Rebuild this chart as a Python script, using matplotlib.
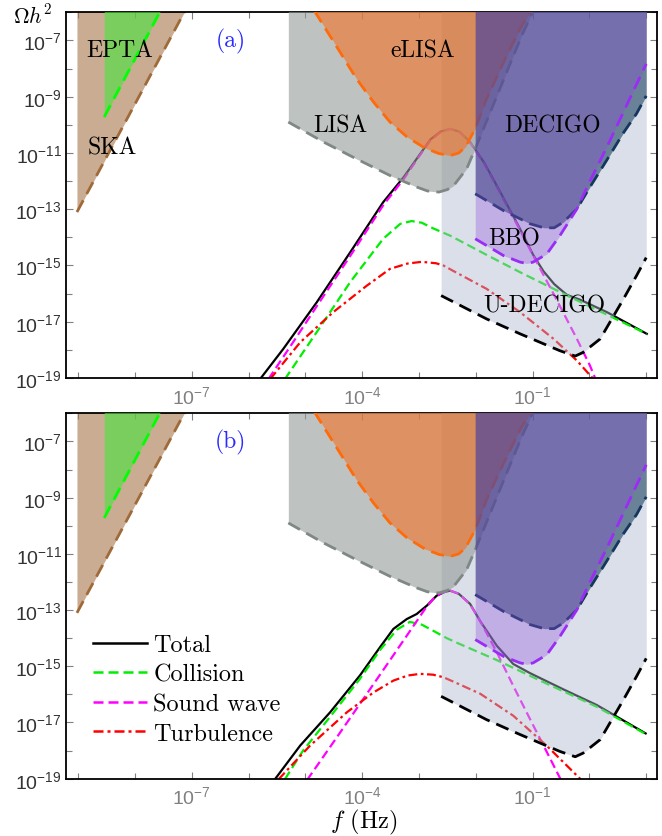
import numpy as np
import matplotlib.pyplot as plt
from matplotlib.lines import Line2D
from matplotlib.ticker import FixedLocator, FuncFormatter, NullFormatter

plt.rcParams['font.family'] = 'Liberation Sans'
plt.rcParams['mathtext.fontset'] = 'custom'
plt.rcParams['mathtext.rm'] = 'Liberation Sans'
plt.rcParams['mathtext.it'] = 'Liberation Sans:italic'
plt.rcParams['mathtext.bf'] = 'Liberation Sans:bold'

# --- detector sensitivities: log10(f/Hz), log10(Omega h^2) ---
ska_f = [-9.02, -7.05]
ska_o = [-13.10, -5.69]
epta_f = [-8.54, -7.52]
epta_o = [-9.72, -5.83]
lisa_f = [-5.30, -4.68, -4.10, -3.51, -3.04, -2.85, -2.65, -2.50, -2.39, -2.16, -2.01, -1.78, -1.48, -1.19, -0.99]
lisa_o = [-9.90, -10.61, -11.21, -11.80, -12.21, -12.35, -12.39, -12.30, -12.16, -11.56, -10.85, -9.72, -8.24, -6.82, -5.95]
elisa_f = [-4.84, -4.39, -4.10, -3.80, -3.51, -3.21, -2.90, -2.65, -2.45, -2.30, -2.18, -2.01, -1.81, -1.51, -1.22, -1.03]
elisa_o = [-5.95, -7.41, -8.36, -9.19, -9.90, -10.43, -10.82, -11.02, -11.09, -11.00, -10.78, -10.14, -9.07, -7.77, -6.58, -5.95]
udec_f = [-2.61, -1.81, -1.22, -0.52, -0.25, -0.11, 0.19, 0.36, 0.60, 0.83, 1.00]
udec_o = [-16.07, -16.90, -17.43, -18.03, -18.22, -18.09, -17.61, -17.02, -16.19, -15.36, -14.72]
decigo_f = [-2.01, -1.51, -1.04, -0.80, -0.62, -0.46, -0.22, 0.01, 0.31, 0.60, 0.83, 1.00]
decigo_o = [-12.45, -13.05, -13.52, -13.66, -13.66, -13.46, -12.99, -12.21, -11.24, -10.28, -9.60, -8.97]
bbo_f = [-2.01, -1.51, -1.22, -1.10, -0.99, -0.75, -0.52, -0.22, 0.01, 0.31, 0.60, 1.00]
bbo_o = [-14.05, -14.65, -14.88, -14.93, -14.88, -14.59, -13.94, -12.99, -12.00, -10.78, -9.54, -7.83]

# --- GW spectra, panel (a) ---
tot_a_f = [-5.82, -5.39, -4.80, -4.21, -3.63, -3.27, -2.95, -2.80, -2.62, -2.45, -2.28, -2.10, -1.85, -1.63,
           -1.22, -0.99, -0.81, -0.62, -0.40, -0.16, 0.31, 1.01]
tot_a_o = [-19.10, -17.97, -16.31, -14.53, -12.75, -11.86, -10.95, -10.52, -10.24, -10.14, -10.25, -10.61, -11.35,
           -12.16, -13.70, -14.62, -15.20, -15.66, -16.04, -16.22, -16.66, -17.43]
col_a_f = [-5.36, -4.80, -4.21, -3.63, -3.33, -3.13, -2.95, -2.75, -2.45, -1.85, -1.22, -0.34, 0.30, 1.01]
col_a_o = [-19.04, -17.37, -15.59, -14.05, -13.52, -13.42, -13.48, -13.68, -13.94, -14.58, -15.24, -16.12, -16.74, -17.43]
sw_a_f = [-5.65, -5.20, -4.80, -4.21, -3.63, -3.27, -2.95, -2.80, -2.62, -2.45, -2.28, -2.10, -1.85, -1.63,
          -1.22, -0.99, -0.63, -0.22, 0.01, 0.12]
sw_a_o = [-19.04, -17.68, -16.45, -14.66, -12.86, -11.93, -10.98, -10.55, -10.26, -10.15, -10.27, -10.63, -11.38,
          -12.20, -13.75, -14.65, -16.01, -17.61, -18.56, -19.10]
tu_a_f = [-5.62, -5.09, -4.51, -3.92, -3.51, -3.20, -2.95, -2.70, -2.57, -2.39, -1.81, -1.22, -0.63, -0.22, 0.08]
tu_a_o = [-19.04, -17.73, -16.66, -15.72, -15.12, -14.93, -14.87, -14.92, -15.00, -15.20, -15.83, -16.66, -17.61, -18.38, -19.06]

# --- GW spectra, panel (b) ---
tot_b_f = [-5.55, -5.09, -4.565, -4.04, -3.685, -3.45, -3.215, -3.04, -2.86, -2.69, -2.54, -2.45, -2.30, -2.10,
           -1.92, -1.63, -1.34, -1.04, -0.46, 0.13, 0.99]
tot_b_o = [-19.06, -17.82, -16.64, -15.33, -14.32, -13.67, -13.32, -13.14, -12.84, -12.49, -12.35, -12.31, -12.42,
           -12.78, -13.40, -14.27, -14.92, -15.25, -15.82, -16.38, -17.39]
col_b_f = [-5.36, -5.04, -4.565, -4.04, -3.685, -3.39, -3.16, -2.95, -2.80, -2.51, -2.28, -1.63, -0.75, 0.13, 0.99]
col_b_o = [-19.02, -18.00, -16.80, -15.45, -14.42, -13.70, -13.42, -13.52, -13.68, -14.00, -14.21, -14.78, -15.62, -16.44, -17.41]
sw_b_f = [-4.97, -4.45, -4.04, -3.57, -3.16, -2.90, -2.75, -2.60, -2.45, -2.30, -2.10, -1.92, -1.63, -1.34, -1.04, -0.75, -0.50]
sw_b_o = [-19.05, -17.54, -16.34, -14.96, -13.75, -12.98, -12.60, -12.38, -12.31, -12.42, -12.80, -13.40, -14.50,
          -15.70, -16.90, -18.05, -19.05]
tu_b_f = [-5.47, -4.92, -4.27, -3.80, -3.45, -3.20, -2.98, -2.75, -2.57, -2.28, -1.92, -1.34, -0.75, -0.14]
tu_b_o = [-19.02, -17.83, -16.64, -15.93, -15.51, -15.33, -15.27, -15.30, -15.39, -15.65, -15.98, -16.76, -17.83, -19.05]

# detector labels (a): text, log f, log Omega
det_labels = ["EPTA", "SKA", "LISA", "eLISA", "DECIGO", "BBO", "U-DECIGO"]
det_lab_f = [-8.26, -8.40, -4.38, -2.94, -0.65, -1.33, -0.80]
det_lab_o = [-7.35, -10.79, -10.02, -7.35, -10.02, -14.03, -16.43]

legend_names = ["Total", "Collision", "Sound wave", "Turbulence"]


def p(a):
    return 10.0 ** np.asarray(a, dtype=float)


TOP = 1e-4
DASH = (4.8, 2.6)

# f, o, fill colour, alpha, line colour
detectors = [
    (ska_f, ska_o, '#a57549', 0.6, '#a06a38'),
    (epta_f, epta_o, '#45e63b', 0.6, '#00ff00'),
    (udec_f, udec_o, '#adb8d0', 0.45, 'black'),
    (lisa_f, lisa_o, '#949b98', 0.6, '#7f8884'),
    (elisa_f, elisa_o, '#f47123', 0.6, '#ff6a0a'),
    (decigo_f, decigo_o, '#1f4463', 0.6, '#15365e'),
    (bbo_f, bbo_o, '#914bdd', 0.33, '#9a2cf5'),
]


def draw_panel(ax, tf, to, cf, co, sf, so, uf, uo):
    ax.plot(p(tf), p(to), color='black', lw=1.6, zorder=1.0)
    ax.plot(p(cf), p(co), color='#00ee00', lw=1.6, dashes=(4, 2), zorder=1.1)
    ax.plot(p(sf), p(so), color='#ff00ff', lw=1.6, dashes=(4, 2), zorder=1.2)
    ax.plot(p(uf), p(uo), color='#ff0000', lw=1.6, dashes=(4, 1.6, 1.2, 1.6), zorder=1.3)
    for i, (f, o, fc, al, lc) in enumerate(detectors):
        z = 2 + i
        ax.fill_between(p(f), p(o), TOP, color=fc, alpha=al, lw=0, zorder=z)
        ax.plot(p(f), p(o), color=lc, lw=2.0, dashes=DASH, zorder=z + 0.5)

    ax.set_xscale('log')
    ax.set_yscale('log')
    ax.set_xlim(10 ** -9.213, 10 ** 1.187)
    ax.set_ylim(1e-19, 10 ** -5.986)
    ax.xaxis.set_major_locator(FixedLocator([1e-7, 1e-4, 1e-1]))
    ax.xaxis.set_minor_locator(FixedLocator([10.0 ** k for k in range(-9, 2)]))
    ax.yaxis.set_major_locator(FixedLocator([10.0 ** k for k in range(-19, -6, 2)]))
    ax.yaxis.set_minor_locator(FixedLocator([10.0 ** k for k in range(-18, -5, 2)]))
    fmt = FuncFormatter(lambda v, pos: r'$10^{%d}$' % int(round(np.log10(v))))
    ax.xaxis.set_major_formatter(fmt)
    ax.yaxis.set_major_formatter(fmt)
    ax.xaxis.set_minor_formatter(NullFormatter())
    ax.yaxis.set_minor_formatter(NullFormatter())
    ax.tick_params(which='both', direction='in', top=True, right=True, color='#808080', width=0.8)
    ax.tick_params(which='major', length=5)
    ax.tick_params(which='minor', length=4)
    ax.tick_params(axis='x', labelsize=14, labelcolor='#808080', pad=5)
    ax.tick_params(axis='y', labelsize=14, labelcolor='#333333', pad=3)
    for s in ax.spines.values():
        s.set_linewidth(1.3)


fig = plt.figure(figsize=(6.62, 8.37), dpi=100)
ax_a = fig.add_axes([0.0997, 0.5472, 0.8925, 0.4373])
ax_b = fig.add_axes([0.0997, 0.0685, 0.8925, 0.4369])

draw_panel(ax_a, tot_a_f, tot_a_o, col_a_f, col_a_o, sw_a_f, sw_a_o, tu_a_f, tu_a_o)
draw_panel(ax_b, tot_b_f, tot_b_o, col_b_f, col_b_o, sw_b_f, sw_b_o, tu_b_f, tu_b_o)

for name, lf, lo in zip(det_labels, det_lab_f, det_lab_o):
    ax_a.text(10 ** lf, 10 ** lo, name, family='cmr10', fontsize=17, ha='center', va='center', zorder=20)

ax_a.text(10 ** -6.31, 10 ** -7.0, '(a)', family='cmr10', fontsize=17, color='#2a2aff', ha='center', va='center', zorder=20)
ax_b.text(10 ** -6.31, 10 ** -7.0, '(b)', family='cmr10', fontsize=17, color='#2a2aff', ha='center', va='center', zorder=20)

handles = [
    Line2D([], [], color='black', lw=1.8),
    Line2D([], [], color='#00ee00', lw=1.8, dashes=(4, 2)),
    Line2D([], [], color='#ff00ff', lw=1.8, dashes=(4, 2)),
    Line2D([], [], color='#ff0000', lw=1.8, dashes=(4, 1.6, 1.2, 1.6)),
]
ax_b.legend(handles, legend_names, loc='upper left', bbox_to_anchor=(0.045, 0.395), frameon=False,
            prop={'family': 'cmr10', 'size': 17.5}, handlelength=2.25, handletextpad=0.25,
            labelspacing=0.3, borderpad=0, borderaxespad=0)

fig.text(33 / 662, 1 - 17 / 837, r'$\Omega h^2$', math_fontfamily='cm', fontsize=15.5, ha='center', va='center')
fig.text(364 / 662, 1 - 822 / 837, r'$f$ (Hz)', family='cmr10', math_fontfamily='cm', fontsize=17.5,
         ha='center', va='center')

fig.savefig('out.png', dpi=100)
